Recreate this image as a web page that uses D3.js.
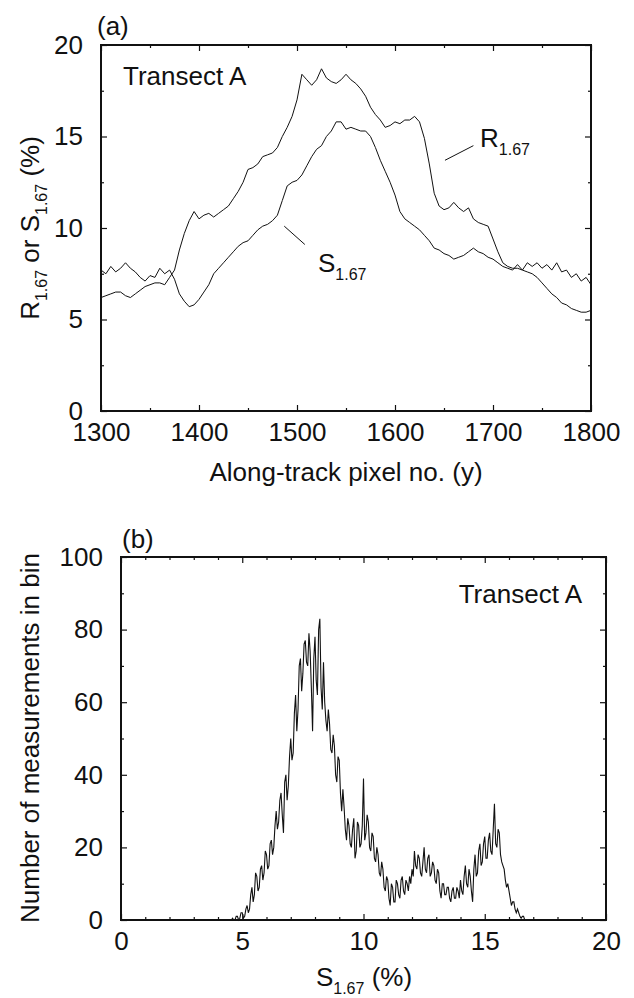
<!DOCTYPE html>
<html>
<head>
<meta charset="utf-8">
<script src="https://cdn.jsdelivr.net/npm/d3@7"></script>
<style>
  body { margin: 0; background: #fff; }
  svg { font-family: "Liberation Sans", Arial, Helvetica, sans-serif; }
  .tick text { font-size: 26px; font-family: "Liberation Sans", Arial, sans-serif; fill: #111; }
  .tick line { stroke: #111; }
  .lbl { font-size: 26px; fill: #111; }
  .sub { font-size: 16px; }
</style>
</head>
<body>
<div id="chart"></div>
<script>
// (a) transect along-track pixels, values in %
var pixelNo = d3.range(1300, 1801, 5)

var r167 = [6.2, 6.3, 6.4, 6.5, 6.5, 6.3, 6.2, 6.4, 6.6, 6.8,
  6.9, 7.0, 7.0, 6.9, 7.3, 7.7, 8.8, 9.7, 10.4, 10.9,
  10.5, 10.7, 10.8, 10.6, 10.8, 11.0, 11.2, 11.6, 12.0, 12.5,
  13.2, 13.3, 13.5, 13.9, 14.0, 14.1, 14.4, 15.0, 15.5, 16.1,
  17.0, 18.4, 18.1, 17.8, 18.1, 18.7, 18.2, 18.0, 17.9, 18.1,
  18.4, 18.1, 17.9, 17.6, 17.2, 16.6, 16.2, 15.9, 15.5, 15.6,
  15.8, 15.7, 15.9, 15.9, 16.1, 15.8, 14.9, 13.5, 11.9, 11.2,
  11.0, 11.1, 11.4, 11.1, 10.9, 11.1, 10.5, 10.3, 10.2, 10.1,
  9.4, 8.7, 8.1, 7.9, 7.8, 7.8, 7.7, 7.6, 7.5, 7.3,
  7.0, 6.7, 6.4, 6.2, 5.9, 5.8, 5.6, 5.5, 5.4, 5.4,
  5.5]

var s167 = [7.7, 7.5, 7.9, 7.6, 7.8, 8.1, 7.8, 7.6, 7.3, 7.1,
  7.4, 7.3, 7.8, 7.5, 7.7, 7.2, 6.4, 6.0, 5.7, 5.8,
  6.1, 6.5, 6.9, 7.5, 7.8, 8.1, 8.4, 8.7, 9.0, 9.2,
  9.3, 9.6, 9.9, 10.1, 10.2, 10.4, 10.7, 11.5, 12.3, 12.5,
  12.6, 12.9, 13.4, 13.9, 14.3, 14.5, 15.0, 15.3, 15.8, 15.8,
  15.4, 15.5, 15.4, 15.3, 15.3, 15.0, 14.4, 13.7, 13.1, 12.5,
  11.8, 10.9, 10.5, 10.3, 10.1, 9.9, 9.6, 9.3, 8.9, 8.8,
  8.6, 8.5, 8.3, 8.4, 8.5, 8.7, 8.9, 8.7, 8.6, 8.4,
  8.3, 8.1, 7.9, 7.8, 7.7, 8.0, 7.7, 8.1, 7.9, 8.1,
  7.8, 8.0, 7.7, 8.1, 7.6, 7.7, 7.3, 7.5, 7.1, 7.3,
  6.9]

// (b) histogram of S1.67, bins of 0.05 % from 4.50 to 16.85
var histBins = d3.range(450, 1690, 5).map(function(d){ return d / 100 })

var histCount = [
  0, 0, 0.5, 0, 0, 1, 1, 0, 0.5, 2,
  2, 0.5, 1, 3, 4, 2, 3, 7, 9, 5,
  7, 13, 12, 8, 9, 14, 15, 11, 13, 19,
  18, 14, 15, 21, 22, 18, 20, 26, 30, 25,
  27, 33, 35, 29, 24, 38, 40, 33, 37, 45,
  50, 44, 46, 57, 62, 52, 58, 70, 72, 63,
  68, 76, 77, 71, 70, 79, 74, 64, 52, 72,
  78, 66, 62, 80, 83, 64, 58, 71, 60, 55,
  52, 58, 54, 47, 46, 51, 48, 40, 38, 45,
  44, 35, 30, 36, 31, 25, 22, 28, 26, 21,
  20, 25, 28, 17, 19, 27, 26, 20, 21, 26,
  39, 22, 24, 29, 27, 20, 19, 24, 23, 17,
  16, 20, 18, 13, 12, 16, 14, 9, 8, 12,
  11, 6, 4, 10, 9, 5, 5, 11, 10, 7,
  6, 11, 12, 8, 7, 11, 10, 8, 12, 10,
  14, 12, 19, 15, 14, 18, 17, 13, 12, 16,
  20, 14, 13, 17, 18, 12, 13, 16, 15, 11,
  10, 14, 13, 8, 6, 10, 10, 7, 7, 9,
  9, 6, 5, 8, 9, 6, 6, 9, 8, 6,
  11, 8, 7, 12, 15, 10, 9, 14, 12, 8,
  5, 14, 18, 12, 13, 19, 21, 15, 16, 21,
  23, 17, 17, 22, 24, 19, 18, 25, 32, 21,
  20, 25, 24, 18, 16, 15, 14, 11, 9, 10,
  8, 6, 4, 5, 5, 3, 2, 3, 2, 1,
  0.5, 1, 1, 0, 0, 0, 0, 0]

var svg = d3.select('#chart').append('svg')
  .attr('width', 634)
  .attr('height', 998)

// frame with inward ticks on all four sides
function frame(g, x, y, w, h, o) {
  var big = 6, small = 3
  var fmt = d3.format('d')
  g.append('g').attr('transform', 'translate(0,' + h + ')')
    .call(d3.axisBottom(x).tickValues(o.xMinor).tickSizeInner(-small).tickSizeOuter(0).tickFormat(''))
  g.append('g').attr('transform', 'translate(0,' + h + ')')
    .call(d3.axisBottom(x).tickValues(o.xMajor).tickSizeInner(-big).tickSizeOuter(0).tickPadding(12).tickFormat(fmt))
  g.append('g')
    .call(d3.axisTop(x).tickValues(o.xMinor).tickSizeInner(-small).tickSizeOuter(0).tickFormat(''))
  g.append('g')
    .call(d3.axisTop(x).tickValues(o.xMajor).tickSizeInner(-big).tickSizeOuter(0).tickFormat(''))
  g.append('g')
    .call(d3.axisLeft(y).tickValues(o.yMinor).tickSizeInner(-small).tickSizeOuter(0).tickFormat(''))
  g.append('g')
    .call(d3.axisLeft(y).tickValues(o.yMajor).tickSizeInner(-big).tickSizeOuter(0).tickPadding(18).tickFormat(fmt))
  g.append('g').attr('transform', 'translate(' + w + ',0)')
    .call(d3.axisRight(y).tickValues(o.yMinor).tickSizeInner(-small).tickSizeOuter(0).tickFormat(''))
  g.append('g').attr('transform', 'translate(' + w + ',0)')
    .call(d3.axisRight(y).tickValues(o.yMajor).tickSizeInner(-big).tickSizeOuter(0).tickFormat(''))
  g.selectAll('.domain').remove()
  g.selectAll('.tick line').attr('stroke-width', 1.2)

  g.append('rect')
    .attr('width', w).attr('height', h)
    .attr('fill', 'none').attr('stroke', '#111').attr('stroke-width', 2)
}

// text with a "1.67" style subscript
function subText(g, x, y, parts, anchor, rotate) {
  var t = g.append('text').attr('class', 'lbl')
    .attr('x', x).attr('y', y)
    .attr('text-anchor', anchor || 'start')
  if (rotate) t.attr('transform', 'rotate(-90,' + x + ',' + y + ')')
  parts.forEach(function(p) {
    var s = t.append('tspan').text(p[0])
    if (p[1] == 'sub') s.attr('class', 'sub').attr('dy', 8)
    if (p[1] == 'up') s.attr('dy', -8)
  })
  return t
}

// ---------- panel (a)
var wa = 490, ha = 366
var ga = svg.append('g').attr('transform', 'translate(101,45)')

var xa = d3.scaleLinear().domain([1300, 1800]).range([0, wa])
var ya = d3.scaleLinear().domain([0, 20]).range([ha, 0])

var lineA = d3.line()
  .x(function(d, i){ return xa(pixelNo[i]) })
  .y(function(d){ return ya(d) })

ga.append('path').datum(r167)
  .attr('d', lineA).attr('fill', 'none').attr('stroke', '#111').attr('stroke-width', 1)
ga.append('path').datum(s167)
  .attr('d', lineA).attr('fill', 'none').attr('stroke', '#111').attr('stroke-width', 1)

frame(ga, xa, ya, wa, ha, {
  xMajor: [1300, 1400, 1500, 1600, 1700, 1800],
  xMinor: [1350, 1450, 1550, 1650, 1750],
  yMajor: [0, 5, 10, 15, 20],
  yMinor: [2.5, 7.5, 12.5, 17.5]
})

ga.append('text').attr('class', 'lbl').attr('x', 22).attr('y', 40).text('Transect A')

// curve labels with leader lines
ga.append('line').attr('x1', xa(1651)).attr('y1', ya(13.7)).attr('x2', xa(1680)).attr('y2', ya(14.5))
  .attr('stroke', '#111').attr('stroke-width', 1)
subText(ga, 379, 102, [['R'], ['1.67', 'sub']])
ga.append('line').attr('x1', xa(1487)).attr('y1', ya(10.1)).attr('x2', xa(1508)).attr('y2', ya(9.1))
  .attr('stroke', '#111').attr('stroke-width', 1)
subText(ga, 217, 227, [['S'], ['1.67', 'sub']])

svg.append('text').attr('class', 'lbl').attr('x', 97).attr('y', 35).text('(a)')
svg.append('text').attr('class', 'lbl').attr('x', 346).attr('y', 481)
  .attr('text-anchor', 'middle').text('Along-track pixel no. (y)')
subText(svg, 39, 228, [['R'], ['1.67', 'sub'], [' or S', 'up'], ['1.67', 'sub'], [' (%)', 'up']], 'middle', true)

// ---------- panel (b)
var wb = 485, hb = 363
var gb = svg.append('g').attr('transform', 'translate(121,557)')

var xb = d3.scaleLinear().domain([0, 20]).range([0, wb])
var yb = d3.scaleLinear().domain([0, 100]).range([hb, 0])

var lineB = d3.line()
  .x(function(d, i){ return xb(histBins[i]) })
  .y(function(d){ return yb(d) })

gb.append('path').datum(histCount)
  .attr('d', lineB).attr('fill', 'none').attr('stroke', '#111').attr('stroke-width', 1.1)

frame(gb, xb, yb, wb, hb, {
  xMajor: [0, 5, 10, 15, 20],
  xMinor: [1, 2, 3, 4, 6, 7, 8, 9, 11, 12, 13, 14, 16, 17, 18, 19],
  yMajor: [0, 20, 40, 60, 80, 100],
  yMinor: [10, 30, 50, 70, 90]
})

gb.append('text').attr('class', 'lbl').attr('x', 461).attr('y', 46)
  .attr('text-anchor', 'end').text('Transect A')

svg.append('text').attr('class', 'lbl').attr('x', 122).attr('y', 548).text('(b)')
subText(svg, 364, 986, [['S'], ['1.67', 'sub'], [' (%)', 'up']], 'middle')
svg.append('text').attr('class', 'lbl')
  .attr('transform', 'translate(39,738) rotate(-90)')
  .attr('text-anchor', 'middle').text('Number of measurements in bin')
</script>
</body>
</html>
